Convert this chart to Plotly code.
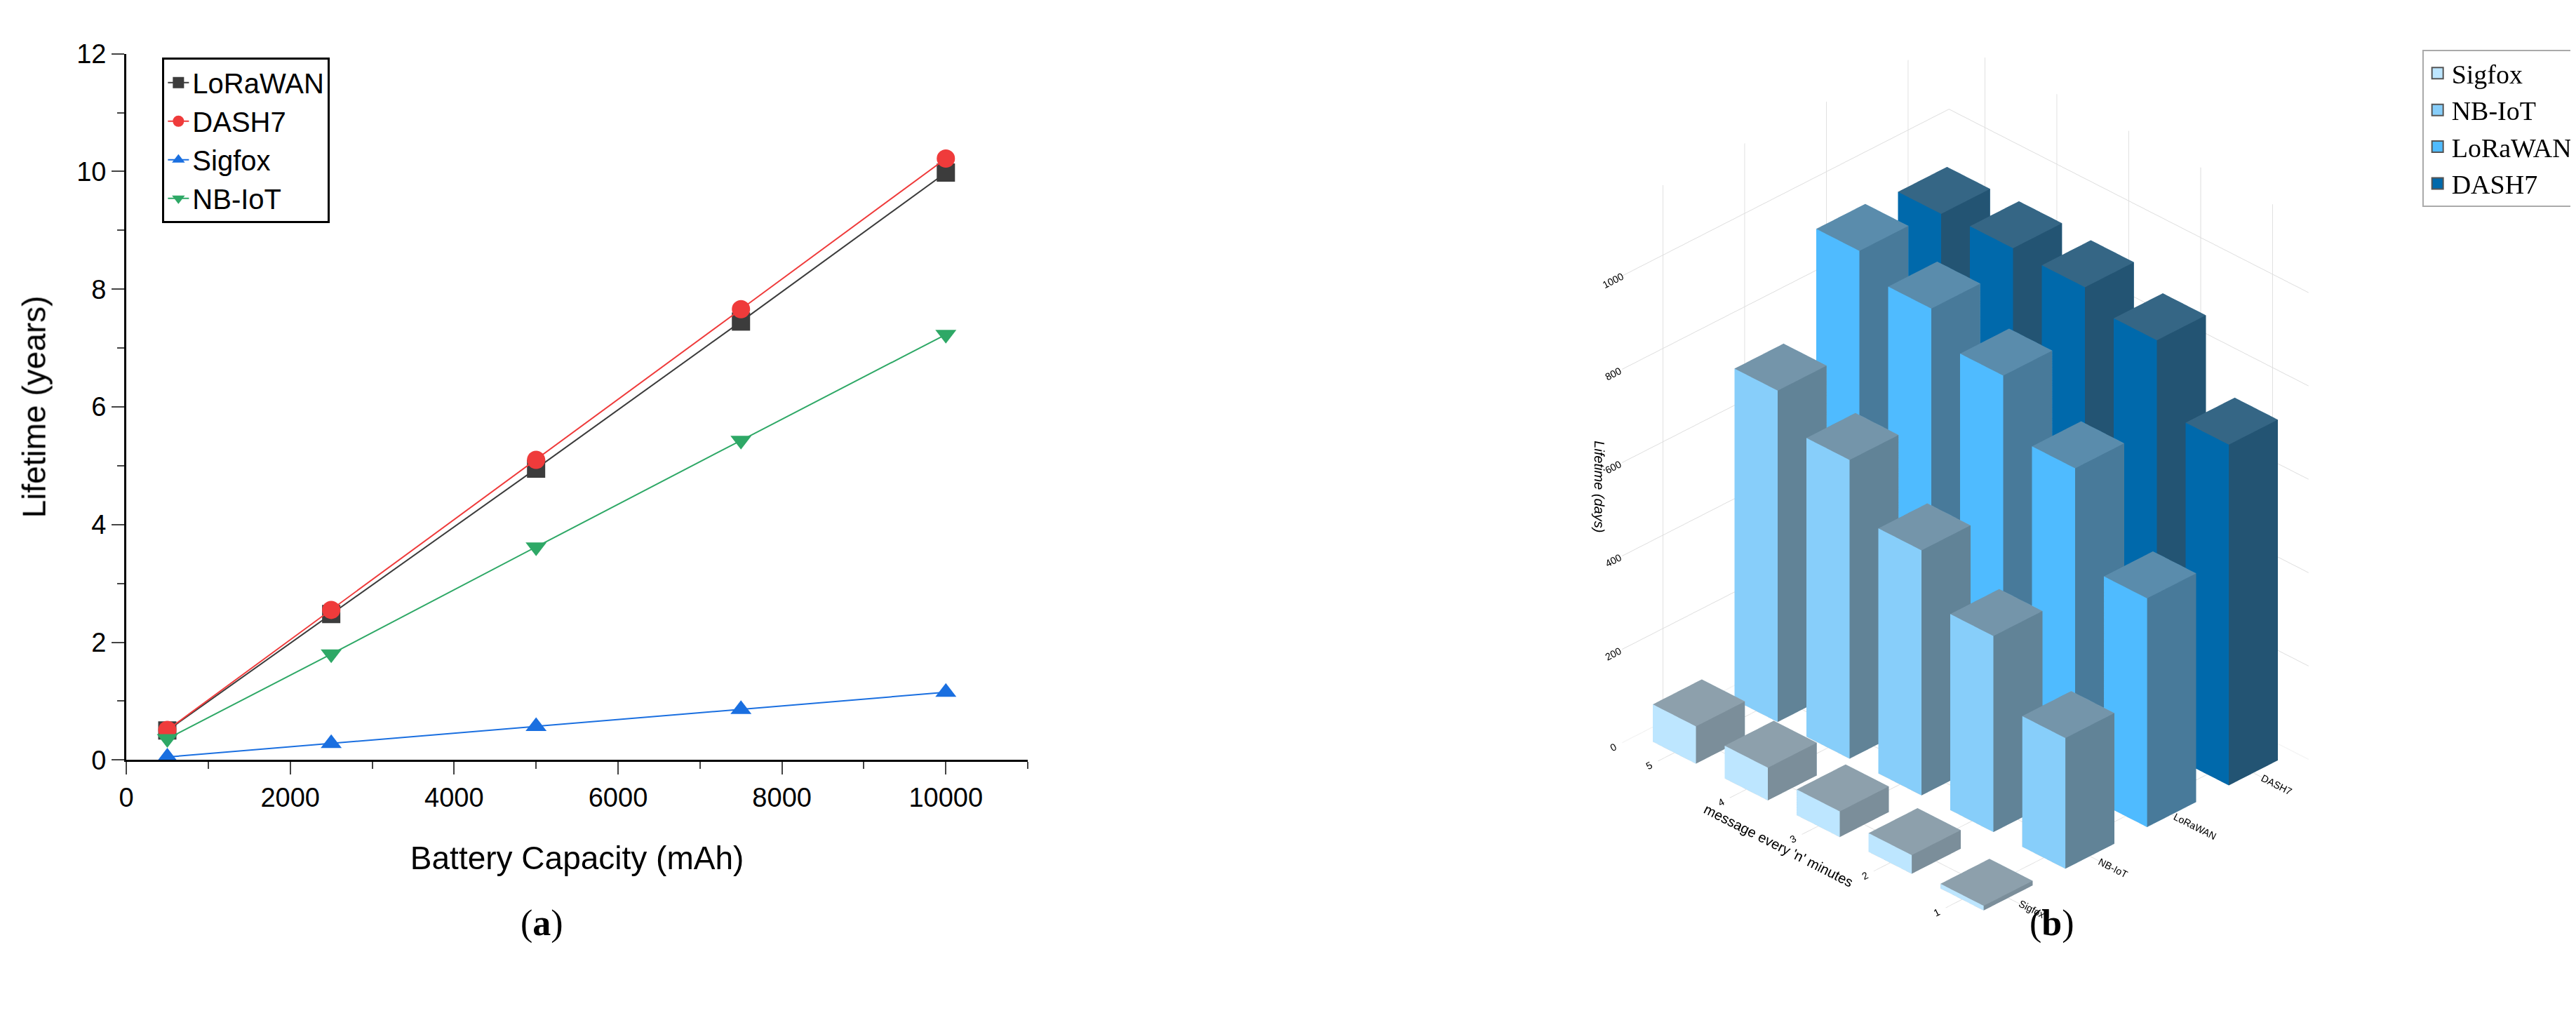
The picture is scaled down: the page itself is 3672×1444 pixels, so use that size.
import plotly.graph_objects as go

capacity = [500, 2500, 5000, 7500, 10000]
lora_years = [0.50, 2.48, 4.95, 7.45, 9.98]
dash7_years = [0.51, 2.55, 5.10, 7.66, 10.22]
sigfox_years = [0.05, 0.28, 0.57, 0.86, 1.15]
nbiot_years = [0.36, 1.80, 3.62, 5.43, 7.23]

techs = ["Sigfox", "NB-IoT", "LoRaWAN", "DASH7"]
n_minutes = [1, 2, 3, 4, 5]
days_sigfox = [10, 40, 55, 70, 80]
days_nbiot = [280, 420, 525, 640, 710]
days_lora = [490, 690, 810, 875, 920]
days_dash7 = [730, 875, 910, 915, 910]

fig = go.Figure()
line_specs = [("LoRaWAN", lora_years, "#3c3c3c", "square"),
              ("DASH7", dash7_years, "#ef3b3b", "circle"),
              ("Sigfox", sigfox_years, "#1a6fe0", "triangle-up"),
              ("NB-IoT", nbiot_years, "#2ea866", "triangle-down")]
for name, ys, col, sym in line_specs:
    fig.add_trace(go.Scatter(x=capacity, y=ys, name=name, mode="lines+markers",
                             line=dict(color=col, width=2),
                             marker=dict(symbol=sym, size=26, color=col),
                             legend="legend"))

def shade(hexc, f, mix=None):
    r, g, b = int(hexc[1:3], 16), int(hexc[3:5], 16), int(hexc[5:7], 16)
    if mix is not None:
        r, g, b = [int(c * (1 - mix) + 140 * mix) for c in (r, g, b)]
    return f"rgb({int(r*f)},{int(g*f)},{int(b*f)})"

bar_colors = ["#BDE6FF", "#87CEFA", "#4FBBFF", "#0069AB"]
all_days = [days_sigfox, days_nbiot, days_lora, days_dash7]
hw = 0.3
for ti, (tech, days, col) in enumerate(zip(techs, all_days, bar_colors)):
    xs, ys, zs, ii, jj, kk, fc = [], [], [], [], [], [], []
    top = shade(col, 0.85, mix=0.45)
    left = col
    right = shade(col, 0.72, mix=0.35)
    for ni, (n, h) in enumerate(zip(n_minutes, days)):
        b = len(xs)
        x0, x1, y0, y1 = ti + 1 - hw, ti + 1 + hw, n - hw, n + hw
        for (x, y, z) in [(x0, y0, 0), (x1, y0, 0), (x1, y1, 0), (x0, y1, 0),
                          (x0, y0, h), (x1, y0, h), (x1, y1, h), (x0, y1, h)]:
            xs.append(x); ys.append(y); zs.append(z)
        faces = [((0, 1, 2), top), ((0, 2, 3), top),
                 ((4, 5, 6), top), ((4, 6, 7), top),
                 ((0, 1, 5), right), ((0, 5, 4), right),
                 ((3, 2, 6), right), ((3, 6, 7), right),
                 ((0, 3, 7), left), ((0, 7, 4), left),
                 ((1, 2, 6), left), ((1, 6, 5), left)]
        for (a, bb, c), fcol in faces:
            ii.append(b + a); jj.append(b + bb); kk.append(b + c); fc.append(fcol)
    fig.add_trace(go.Mesh3d(x=xs, y=ys, z=zs, i=ii, j=jj, k=kk, facecolor=fc,
                            flatshading=True, name=tech, showlegend=False,
                            hoverinfo="name",
                            lighting=dict(ambient=1, diffuse=0, specular=0, fresnel=0)))
    fig.add_trace(go.Scatter(x=[None], y=[None], mode="markers", name=tech,
                             marker=dict(symbol="square", size=40, color=col,
                                         line=dict(color="#555555", width=2)),
                             legend="legend2"))

fig.update_layout(
    width=3672, height=1444, paper_bgcolor="white", plot_bgcolor="white",
    margin=dict(l=0, r=0, t=0, b=0),
    font=dict(family="Liberation Sans", size=38, color="black"),
    xaxis=dict(domain=[0.044, 0.395], range=[0, 11000], tickvals=[0, 2000, 4000, 6000, 8000, 10000],
               tickformat="d",
               showline=True, linecolor="black", linewidth=3, ticks="outside", ticklen=18,
               tickwidth=2, minor=dict(ticks="outside", ticklen=10, dtick=1000),
               showgrid=False, zeroline=False,
               title=dict(text="Battery Capacity (mAh)", standoff=50)),
    yaxis=dict(domain=[0.248, 0.966], range=[0, 12], dtick=2,
               showline=True, linecolor="black", linewidth=3, ticks="outside", ticklen=18,
               tickwidth=2, minor=dict(ticks="outside", ticklen=10, dtick=1),
               showgrid=False, zeroline=False,
               title=dict(text="Lifetime (years)", standoff=30)),
    legend=dict(x=0.058, y=0.962, xanchor="left", yanchor="top", bgcolor="white",
                bordercolor="black", borderwidth=3, font=dict(size=40), tracegroupgap=0),
    legend2=dict(x=0.998, y=0.97, xanchor="right", yanchor="top", bgcolor="white",
                 bordercolor="#aaaaaa", borderwidth=2,
                 font=dict(family="Liberation Serif", size=38)),
    scene=dict(
        domain=dict(x=[0.57, 0.95], y=[0.06, 1.0]),
        camera=dict(eye=dict(x=-1.55, y=-1.55, z=1.3), projection=dict(type="orthographic")),
        aspectmode="manual", aspectratio=dict(x=1, y=1.1, z=1.35),
        xaxis=dict(title=dict(text=""), tickvals=[1, 2, 3, 4], ticktext=techs, range=[0.5, 4.5],
                   gridcolor="#dddddd", showbackground=False, tickfont=dict(size=13)),
        yaxis=dict(title=dict(text="message every 'n' minutes", font=dict(size=20)),
                   tickvals=n_minutes, range=[0.5, 5.5], gridcolor="#dddddd",
                   showbackground=False, tickfont=dict(size=13)),
        zaxis=dict(title=dict(text="<i>Lifetime (days)</i>", font=dict(size=20)),
                   range=[0, 1150], tickvals=[0, 200, 400, 600, 800, 1000],
                   gridcolor="#dddddd", showbackground=False, tickfont=dict(size=13)),
    ),
    annotations=[
        dict(text="(<b>a</b>)", x=0.197, y=0.06, xref="paper", yref="paper", showarrow=False,
             font=dict(family="Liberation Serif", size=52)),
        dict(text="(<b>b</b>)", x=0.803, y=0.06, xref="paper", yref="paper", showarrow=False,
             font=dict(family="Liberation Serif", size=52)),
    ],
)
fig.write_html("out.html")
